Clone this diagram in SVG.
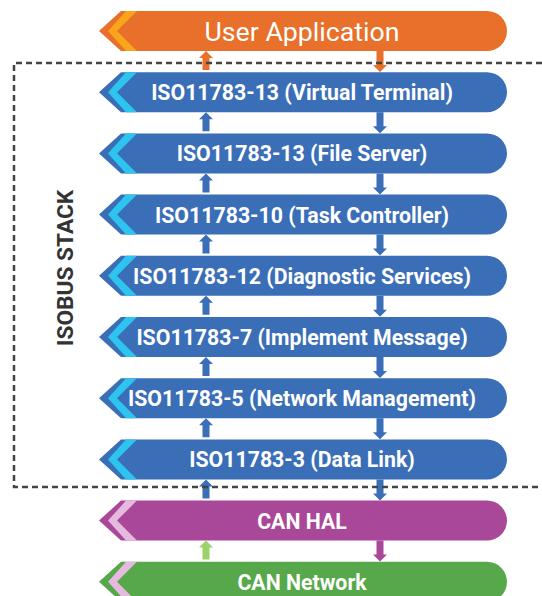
<svg xmlns="http://www.w3.org/2000/svg" xmlns:xlink="http://www.w3.org/1999/xlink" width="542" height="596" viewBox="0 0 542 596">
<style>
.lbl{font-family:Roboto,"Liberation Sans",Arial,sans-serif;font-weight:bold;font-size:21.3px;fill:#fff;text-anchor:middle}
.app{font-family:Roboto,"Liberation Sans",Arial,sans-serif;font-size:26.7px;fill:#fff;text-anchor:middle}
.side{font-family:Roboto,"Liberation Sans",Arial,sans-serif;font-weight:bold;font-size:22.7px;fill:#333;text-anchor:middle}
.orange{fill:#E8702A}.orangeL{fill:#F8A51D}
.blue{fill:#3A6EB7}.blueL{fill:#2EC4F0}
.purple{fill:#A94799}.pink{fill:#E6B9DF}
.green{fill:#56A84B}.lgreen{fill:#9DD16A}
</style>
<defs>
<path id="bar" d="M99,20 L121,0 L487,0 A20,20 0 0 1 507,20 A20,20 0 0 1 487,40 L121,40 Z"/>
<path id="stripe" d="M108,20 L126,0 L137,0 L117,20 L137,40 L126,40 Z"/>
<path id="up" d="M-7,7 L0,0 L7,7 L3.5,7 L3.5,19 L-3.5,19 L-3.5,7 Z"/>
<path id="down" d="M-3.5,0 L3.5,0 L3.5,14 L7,14 L0,21 L-7,14 L-3.5,14 Z"/>
</defs>

<g id="connectors">
<use xlink:href="#up" class="orange" transform="translate(206,51)"/>
<use xlink:href="#down" class="orange" transform="translate(380,51)"/>
<use xlink:href="#up" class="blue" transform="translate(206,112.2)"/>
<use xlink:href="#down" class="blue" transform="translate(380,112.2)"/>
<use xlink:href="#up" class="blue" transform="translate(206,173.4)"/>
<use xlink:href="#down" class="blue" transform="translate(380,173.4)"/>
<use xlink:href="#up" class="blue" transform="translate(206,234.6)"/>
<use xlink:href="#down" class="blue" transform="translate(380,234.6)"/>
<use xlink:href="#up" class="blue" transform="translate(206,295.8)"/>
<use xlink:href="#down" class="blue" transform="translate(380,295.8)"/>
<use xlink:href="#up" class="blue" transform="translate(206,357)"/>
<use xlink:href="#down" class="blue" transform="translate(380,357)"/>
<use xlink:href="#up" class="blue" transform="translate(206,418.2)"/>
<use xlink:href="#down" class="blue" transform="translate(380,418.2)"/>
<use xlink:href="#up" class="blue" transform="translate(206,479.4)"/>
<use xlink:href="#down" class="blue" transform="translate(380,479.4)"/>
<use xlink:href="#up" class="lgreen" transform="translate(206,540.6)"/>
<use xlink:href="#down" class="purple" transform="translate(380,540.6)"/>
</g>

<g id="isobus-stack">
<path d="M542,63 L14,63 L14,487 L542,487" fill="none" stroke="#444" stroke-width="2.5" stroke-dasharray="6,4"/>
<text class="side" transform="translate(72.5,268) rotate(-90)">ISOBUS STACK</text>
</g>

<g id="user-application" transform="translate(0,11)">
<use xlink:href="#bar" class="orange"/><use xlink:href="#stripe" class="orangeL"/>
<text class="app" x="302" y="29.5">User Application</text>
</g>
<g id="vt" transform="translate(0,72.2)">
<use xlink:href="#bar" class="blue"/><use xlink:href="#stripe" class="blueL"/>
<text class="lbl" x="302" y="28">ISO11783-13 (Virtual Terminal)</text>
</g>
<g id="fs" transform="translate(0,133.4)">
<use xlink:href="#bar" class="blue"/><use xlink:href="#stripe" class="blueL"/>
<text class="lbl" x="302" y="28">ISO11783-13 (File Server)</text>
</g>
<g id="tc" transform="translate(0,194.6)">
<use xlink:href="#bar" class="blue"/><use xlink:href="#stripe" class="blueL"/>
<text class="lbl" x="302" y="28">ISO11783-10 (Task Controller)</text>
</g>
<g id="ds" transform="translate(0,255.8)">
<use xlink:href="#bar" class="blue"/><use xlink:href="#stripe" class="blueL"/>
<text class="lbl" x="302" y="28">ISO11783-12 (Diagnostic Services)</text>
</g>
<g id="im" transform="translate(0,317)">
<use xlink:href="#bar" class="blue"/><use xlink:href="#stripe" class="blueL"/>
<text class="lbl" x="302" y="28">ISO11783-7 (Implement Message)</text>
</g>
<g id="nm" transform="translate(0,378.2)">
<use xlink:href="#bar" class="blue"/><use xlink:href="#stripe" class="blueL"/>
<text class="lbl" x="302" y="28">ISO11783-5 (Network Management)</text>
</g>
<g id="dl" transform="translate(0,439.4)">
<use xlink:href="#bar" class="blue"/><use xlink:href="#stripe" class="blueL"/>
<text class="lbl" x="302" y="28">ISO11783-3 (Data Link)</text>
</g>
<g id="can-hal" transform="translate(0,500.6)">
<use xlink:href="#bar" class="purple"/><use xlink:href="#stripe" class="pink"/>
<text class="lbl" x="302" y="28">CAN HAL</text>
</g>
<g id="can-network" transform="translate(0,561.8)">
<use xlink:href="#bar" class="green"/><use xlink:href="#stripe" class="pink"/>
<text class="lbl" x="302" y="28">CAN Network</text>
</g>
</svg>
